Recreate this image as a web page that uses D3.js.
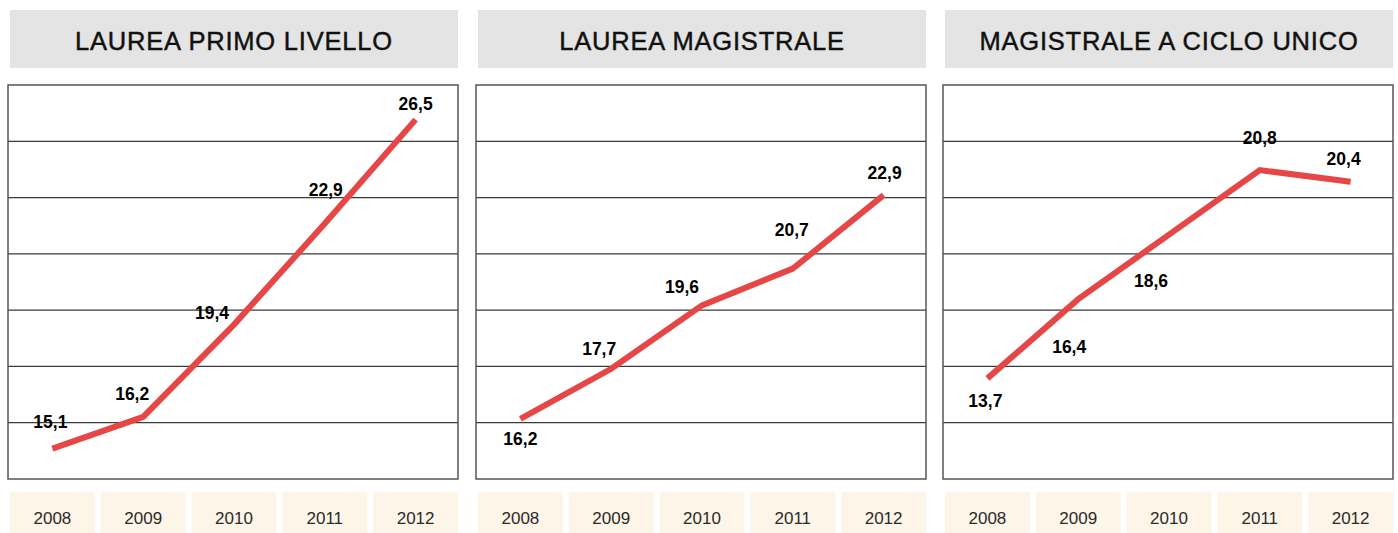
<!DOCTYPE html>
<html>
<head>
<meta charset="utf-8">
<script src="https://cdn.jsdelivr.net/npm/d3@7"></script>
<style>
body{margin:0;background:#fff;}
svg{display:block;font-family:"Liberation Sans",Arial,Helvetica,sans-serif;}
</style>
</head>
<body>
<div id="chart"></div>
<script>
// data
var years=["2008","2009","2010","2011","2012"];
var titles=["LAUREA PRIMO LIVELLO","LAUREA MAGISTRALE","MAGISTRALE A CICLO UNICO"];
var primoLivello=[15.1,16.2,19.4,22.9,26.5];
var magistrale=[16.2,17.7,19.6,20.7,22.9];
var cicloUnico=[13.7,16.4,18.6,20.8,20.4];
var series=[primoLivello,magistrale,cicloUnico];

// each panel in the original has its own vertical extent
var yDomains=[[14.05,27.7],[14.4,26.2],[10.27,23.7]];

// label nudges (dx, dy) from the point
var labelNudge=[
	[[-2,-21],[-11,-17],[-22,-6],[1,-28],[0,-10]],
	[[0,26],[-12,-14],[-20,-12],[-1,-33],[1,-16]],
	[[-2,29],[-9,54],[-18,52],[0,-26],[-7,-17]]
];

var W=1398,H=533;
var panelLeft=[10,478,945];
var panelW=448;
var plotTop=85,plotBottom=479;

var it=d3.formatLocale({decimal:",",thousands:".",grouping:[3],currency:["","€"]});
var fmt=it.format(".1f");

var svg=d3.select("#chart")
	.append("svg")
	.attr("width",W)
	.attr("height",H);

function drawPanel(i){
	var left=panelLeft[i];
	var g=svg.append("g")
		.attr("class","panel")
		.attr("transform","translate("+left+",0)");

	// title
	g.append("rect")
		.attr("x",0).attr("y",10)
		.attr("width",panelW).attr("height",58)
		.attr("fill","#e4e4e4");
	g.append("text")
		.text(titles[i])
		.attr("x",panelW/2)
		.attr("y",50)
		.attr("text-anchor","middle")
		.attr("font-size",25.5)
		.attr("letter-spacing",0.8)
		.attr("fill","#111")
		.attr("stroke","#111")
		.attr("stroke-width",0.45);

	var x=d3.scaleBand()
		.domain(years)
		.range([0,panelW])
		.paddingInner(0.066)
		.paddingOuter(0);

	var y=d3.scaleLinear()
		.domain(yDomains[i])
		.range([plotBottom,plotTop]);

	// grid bands
	var grid=d3.scaleLinear().domain([0,7]).range([plotBottom,plotTop]);
	g.append("g")
		.selectAll("line")
		.data(d3.range(1,7))
		.enter()
		.append("line")
		.attr("x1",-2).attr("x2",panelW)
		.attr("y1",function(d){return grid(d);})
		.attr("y2",function(d){return grid(d);})
		.attr("stroke","#3a3a3a")
		.attr("stroke-width",1.2);

	g.append("rect")
		.attr("x",-2).attr("y",plotTop)
		.attr("width",panelW+2).attr("height",plotBottom-plotTop)
		.attr("fill","none")
		.attr("stroke","#555")
		.attr("stroke-width",1.5);

	var pts=series[i].map(function(v,j){
		return {year:years[j],v:v,x:x(years[j])+x.bandwidth()/2,y:y(v),n:labelNudge[i][j]};
	});

	var line=d3.line()
		.x(function(d){return d.x;})
		.y(function(d){return d.y;});

	g.append("path")
		.datum(pts)
		.attr("d",line)
		.attr("fill","none")
		.attr("stroke","#e64646")
		.attr("stroke-width",6)
		.attr("stroke-linejoin","miter");

	g.append("g")
		.selectAll("text")
		.data(pts)
		.enter()
		.append("text")
		.text(function(d){return fmt(d.v);})
		.attr("x",function(d){return d.x+d.n[0];})
		.attr("y",function(d){return d.y+d.n[1];})
		.attr("text-anchor","middle")
		.attr("font-size",17.5)
		.attr("font-weight","bold")
		.attr("fill","#000");

	// year cells
	var cells=g.append("g")
		.selectAll("g")
		.data(years)
		.enter()
		.append("g");
	cells.append("rect")
		.attr("x",function(d){return x(d);})
		.attr("y",492)
		.attr("width",x.bandwidth())
		.attr("height",H-492)
		.attr("fill","#fdf5e7");
	cells.append("text")
		.text(function(d){return d;})
		.attr("x",function(d){return x(d)+x.bandwidth()/2;})
		.attr("y",524)
		.attr("text-anchor","middle")
		.attr("font-size",17)
		.attr("fill","#2a2a2a");
}

for(var i=0;i<3;i++)
	drawPanel(i);
</script>
</body>
</html>
